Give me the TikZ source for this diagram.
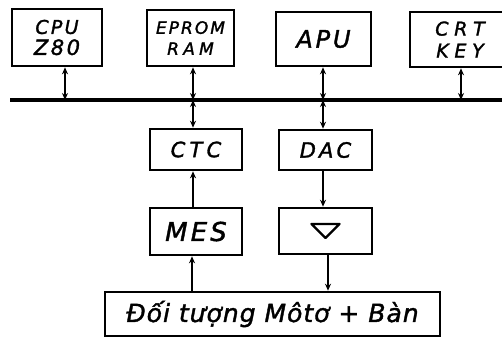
\documentclass[tikz,border=0pt]{standalone}
\usepackage{fontspec}
\newfontfamily\hand[LetterSpace=12,FakeBold=1.5]{DejaVu Sans}
\usetikzlibrary{arrows.meta,calc}
\tikzset{
  box/.style={draw, line width=2.6pt, inner sep=0pt, font=\hand\itshape},
  tip/.tip={Stealth[length=7pt,width=6pt]},
  link/.style={line width=2.2pt, -tip},
  dlink/.style={line width=2.2pt, tip-tip},
}
\begin{document}
\begin{tikzpicture}[x=1pt,y=-1pt]
\useasboundingbox (0,0) rectangle (502,338);
\clip (0,0) rectangle (502,338);
% top row
\node[box, minimum width=90pt, minimum height=57pt, align=center, font=\hand\itshape\fontsize{19}{21}\selectfont] (cpu) at (57,37.5) {CPU\\\fontsize{21}{21}\selectfont Z80};
\node[box, minimum width=87pt, minimum height=56pt, align=center, font=\hand\itshape\fontsize{17}{21}\selectfont] (eprom) at (190.5,38) {EPROM\\\addfontfeature{LetterSpace=25}RAM};
\node[box, minimum width=95pt, minimum height=54pt, font=\hand\itshape\fontsize{24}{24}\selectfont] (apu) at (323.5,39) {APU};
\node[box, minimum width=100pt, minimum height=55pt, align=center, font=\hand\itshape\fontsize{19}{22}\selectfont\addfontfeature{LetterSpace=30}] (crt) at (460,39.5) {CRT\\KEY};
% bus
\coordinate (busL) at (10,100);
\coordinate (busR) at (502,100);
\draw[line width=3.6pt] (busL) -- (busR);
\coordinate (bcpu) at (65,100);
\coordinate (beprom) at (193,100);
\coordinate (bapu) at (323,100);
\coordinate (bcrt) at (461,100);
\draw[dlink] (cpu.south -| bcpu) -- (bcpu);
\draw[dlink] (eprom.south -| beprom) -- (beprom);
\draw[dlink] (apu.south -| bapu) -- (bapu);
\draw[dlink] (crt.south -| bcrt) -- (bcrt);
% middle
\node[box, minimum width=92pt, minimum height=41pt, font=\hand\itshape\fontsize{21}{21}\selectfont\addfontfeature{LetterSpace=20}] (ctc) at (196,149.5) {CTC};
\node[box, minimum width=93pt, minimum height=40pt, font=\hand\itshape\fontsize{21}{21}\selectfont\addfontfeature{LetterSpace=15}] (dac) at (325.5,150) {DAC};
\node[box, minimum width=92pt, minimum height=47pt, font=\hand\itshape\fontsize{26}{26}\selectfont] (mes) at (196,231.5) {MES};
\node[box, minimum width=93pt, minimum height=46pt] (tri) at (325.5,231) {};
\draw[line width=2.4pt, line join=round] ($(tri.center)+(-14,-7)$) -- ($(tri.center)+(14,-7)$) -- ($(tri.center)+(0,7)$) -- cycle;
\node[box, minimum width=335pt, minimum height=44pt, font=\hand\itshape\fontsize{25}{26}\selectfont\addfontfeature{LetterSpace=4}] (obj) at (272.5,314) {Đối tượng Môtơ + Bàn};
% connectors
\coordinate (bctc) at (193,100);
\coordinate (bdac) at (323,100);
\draw[dlink] (bctc) -- (ctc.north -| bctc);
\draw[dlink] (bdac) -- (dac.north -| bdac);
\draw[link] (dac.south -| bdac) -- (tri.north -| bdac);
\coordinate (xmes) at (193,0);
\coordinate (xobj) at (192,0);
\coordinate (xtri) at (328,0);
\draw[link] (mes.north -| xmes) -- (ctc.south -| xmes);
\draw[link] (obj.north -| xobj) -- (mes.south -| xobj);
\draw[link] (tri.south -| xtri) -- (obj.north -| xtri);
\end{tikzpicture}
\end{document}
